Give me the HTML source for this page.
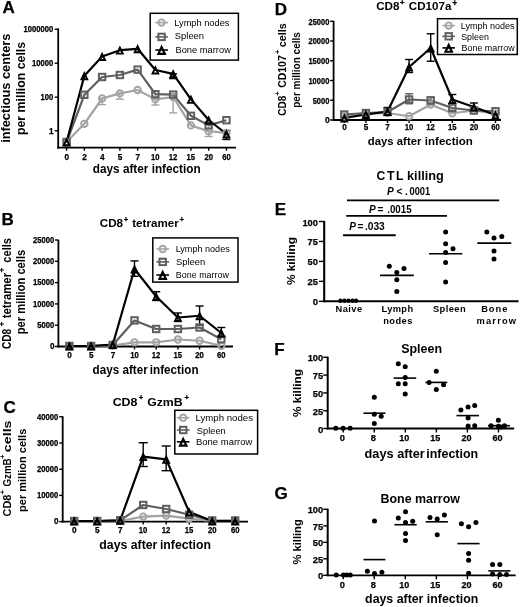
<!DOCTYPE html>
<html><head><meta charset="utf-8"><style>
html,body{margin:0;padding:0;background:#fff;}
svg{display:block;filter:grayscale(100%);}
text{font-family:"Liberation Sans", sans-serif;}
</style></head><body>
<svg width="520" height="607" viewBox="0 0 520 607" font-family='"Liberation Sans", sans-serif'>
<rect width="520" height="607" fill="#fff"/>
<text x="2.58" y="12.50" font-size="17" font-weight="bold" fill="#000" stroke="#000" stroke-width="0.25">A</text>
<line x1="58.20" y1="28.40" x2="58.20" y2="148.60" stroke="#000" stroke-width="1.8" stroke-linecap="butt"/>
<line x1="54.70" y1="29.30" x2="58.20" y2="29.30" stroke="#000" stroke-width="1.4" stroke-linecap="butt"/>
<text x="23.59" y="32.12" font-size="8.2" font-weight="bold" fill="#000" textLength="29.75" lengthAdjust="spacingAndGlyphs" stroke="#000" stroke-width="0.25">1000000</text>
<line x1="54.70" y1="63.20" x2="58.20" y2="63.20" stroke="#000" stroke-width="1.4" stroke-linecap="butt"/>
<text x="32.07" y="66.02" font-size="8.2" font-weight="bold" fill="#000" textLength="21.27" lengthAdjust="spacingAndGlyphs" stroke="#000" stroke-width="0.25">10000</text>
<line x1="54.70" y1="97.20" x2="58.20" y2="97.20" stroke="#000" stroke-width="1.4" stroke-linecap="butt"/>
<text x="40.55" y="100.02" font-size="8.2" font-weight="bold" fill="#000" textLength="12.78" lengthAdjust="spacingAndGlyphs" stroke="#000" stroke-width="0.25">100</text>
<line x1="54.70" y1="130.80" x2="58.20" y2="130.80" stroke="#000" stroke-width="1.4" stroke-linecap="butt"/>
<text x="48.93" y="133.62" font-size="8.2" font-weight="bold" fill="#000" stroke="#000" stroke-width="0.25">1</text>
<line x1="57.30" y1="147.70" x2="236.00" y2="147.70" stroke="#000" stroke-width="1.8" stroke-linecap="butt"/>
<line x1="66.60" y1="147.70" x2="66.60" y2="150.70" stroke="#000" stroke-width="1.4" stroke-linecap="butt"/>
<text x="64.46" y="159.70" font-size="8.2" font-weight="bold" fill="#000" stroke="#000" stroke-width="0.25">0</text>
<line x1="84.36" y1="147.70" x2="84.36" y2="150.70" stroke="#000" stroke-width="1.4" stroke-linecap="butt"/>
<text x="82.24" y="159.70" font-size="8.2" font-weight="bold" fill="#000" stroke="#000" stroke-width="0.25">2</text>
<line x1="102.12" y1="147.70" x2="102.12" y2="150.70" stroke="#000" stroke-width="1.4" stroke-linecap="butt"/>
<text x="99.95" y="159.70" font-size="8.2" font-weight="bold" fill="#000" stroke="#000" stroke-width="0.25">4</text>
<line x1="119.88" y1="147.70" x2="119.88" y2="150.70" stroke="#000" stroke-width="1.4" stroke-linecap="butt"/>
<text x="117.73" y="159.70" font-size="8.2" font-weight="bold" fill="#000" stroke="#000" stroke-width="0.25">5</text>
<line x1="137.64" y1="147.70" x2="137.64" y2="150.70" stroke="#000" stroke-width="1.4" stroke-linecap="butt"/>
<text x="135.50" y="159.70" font-size="8.2" font-weight="bold" fill="#000" stroke="#000" stroke-width="0.25">7</text>
<line x1="155.40" y1="147.70" x2="155.40" y2="150.70" stroke="#000" stroke-width="1.4" stroke-linecap="butt"/>
<text x="151.04" y="159.70" font-size="8.2" font-weight="bold" fill="#000" textLength="8.54" lengthAdjust="spacingAndGlyphs" stroke="#000" stroke-width="0.25">10</text>
<line x1="173.16" y1="147.70" x2="173.16" y2="150.70" stroke="#000" stroke-width="1.4" stroke-linecap="butt"/>
<text x="168.80" y="159.70" font-size="8.2" font-weight="bold" fill="#000" textLength="8.54" lengthAdjust="spacingAndGlyphs" stroke="#000" stroke-width="0.25">12</text>
<line x1="190.92" y1="147.70" x2="190.92" y2="150.70" stroke="#000" stroke-width="1.4" stroke-linecap="butt"/>
<text x="186.51" y="159.70" font-size="8.2" font-weight="bold" fill="#000" textLength="8.53" lengthAdjust="spacingAndGlyphs" stroke="#000" stroke-width="0.25">15</text>
<line x1="208.68" y1="147.70" x2="208.68" y2="150.70" stroke="#000" stroke-width="1.4" stroke-linecap="butt"/>
<text x="204.44" y="159.70" font-size="8.2" font-weight="bold" fill="#000" textLength="8.53" lengthAdjust="spacingAndGlyphs" stroke="#000" stroke-width="0.25">20</text>
<line x1="226.44" y1="147.70" x2="226.44" y2="150.70" stroke="#000" stroke-width="1.4" stroke-linecap="butt"/>
<text x="222.19" y="159.70" font-size="8.2" font-weight="bold" fill="#000" textLength="8.53" lengthAdjust="spacingAndGlyphs" stroke="#000" stroke-width="0.25">60</text>
<text x="92.80" y="173.30" font-size="12.3" font-weight="bold" fill="#000" textLength="107.87" lengthAdjust="spacingAndGlyphs">days after infection</text>
<g transform="translate(9.90 142.00) rotate(-90)">
<text x="-0.88" y="0.00" font-size="12.6" font-weight="bold" fill="#000" textLength="109.30" lengthAdjust="spacingAndGlyphs">infectious centers</text>
</g>
<g transform="translate(24.60 134.20) rotate(-90)">
<text x="-0.83" y="0.00" font-size="12.6" font-weight="bold" fill="#000" textLength="93.15" lengthAdjust="spacingAndGlyphs">per million cells</text>
</g>
<line x1="119.88" y1="93.40" x2="119.88" y2="99.20" stroke="#a3a3a3" stroke-width="1.4" stroke-linecap="butt"/>
<line x1="115.88" y1="93.40" x2="123.88" y2="93.40" stroke="#a3a3a3" stroke-width="1.4" stroke-linecap="butt"/>
<line x1="115.88" y1="99.20" x2="123.88" y2="99.20" stroke="#a3a3a3" stroke-width="1.4" stroke-linecap="butt"/>
<line x1="102.12" y1="98.50" x2="102.12" y2="104.60" stroke="#a3a3a3" stroke-width="1.4" stroke-linecap="butt"/>
<line x1="98.12" y1="98.50" x2="106.12" y2="98.50" stroke="#a3a3a3" stroke-width="1.4" stroke-linecap="butt"/>
<line x1="98.12" y1="104.60" x2="106.12" y2="104.60" stroke="#a3a3a3" stroke-width="1.4" stroke-linecap="butt"/>
<line x1="155.40" y1="99.40" x2="155.40" y2="105.00" stroke="#a3a3a3" stroke-width="1.4" stroke-linecap="butt"/>
<line x1="151.40" y1="99.40" x2="159.40" y2="99.40" stroke="#a3a3a3" stroke-width="1.4" stroke-linecap="butt"/>
<line x1="151.40" y1="105.00" x2="159.40" y2="105.00" stroke="#a3a3a3" stroke-width="1.4" stroke-linecap="butt"/>
<line x1="173.16" y1="97.00" x2="173.16" y2="112.90" stroke="#a3a3a3" stroke-width="1.4" stroke-linecap="butt"/>
<line x1="169.16" y1="97.00" x2="177.16" y2="97.00" stroke="#a3a3a3" stroke-width="1.4" stroke-linecap="butt"/>
<line x1="169.16" y1="112.90" x2="177.16" y2="112.90" stroke="#a3a3a3" stroke-width="1.4" stroke-linecap="butt"/>
<line x1="208.68" y1="131.20" x2="208.68" y2="136.50" stroke="#a3a3a3" stroke-width="1.4" stroke-linecap="butt"/>
<line x1="204.68" y1="131.20" x2="212.68" y2="131.20" stroke="#a3a3a3" stroke-width="1.4" stroke-linecap="butt"/>
<line x1="204.68" y1="136.50" x2="212.68" y2="136.50" stroke="#a3a3a3" stroke-width="1.4" stroke-linecap="butt"/>
<line x1="226.44" y1="130.50" x2="226.44" y2="139.50" stroke="#000" stroke-width="1.4" stroke-linecap="butt"/>
<line x1="222.44" y1="130.50" x2="230.44" y2="130.50" stroke="#000" stroke-width="1.4" stroke-linecap="butt"/>
<line x1="222.44" y1="139.50" x2="230.44" y2="139.50" stroke="#000" stroke-width="1.4" stroke-linecap="butt"/>
<line x1="173.16" y1="73.80" x2="173.16" y2="78.60" stroke="#000" stroke-width="1.4" stroke-linecap="butt"/>
<line x1="169.16" y1="73.80" x2="177.16" y2="73.80" stroke="#000" stroke-width="1.4" stroke-linecap="butt"/>
<line x1="169.16" y1="78.60" x2="177.16" y2="78.60" stroke="#000" stroke-width="1.4" stroke-linecap="butt"/>
<polyline points="66.60,142.00 84.36,123.80 102.12,98.50 119.88,93.40 137.64,90.00 155.40,99.40 173.16,97.00 190.92,125.40 208.68,131.20 226.44,133.00" fill="none" stroke="#a3a3a3" stroke-width="2.2" stroke-linejoin="round"/>
<polyline points="66.60,142.00 84.36,94.80 102.12,77.00 119.88,75.00 137.64,69.60 155.40,94.20 173.16,94.60 190.92,115.80 208.68,125.40 226.44,120.20" fill="none" stroke="#5f5f5f" stroke-width="2.2" stroke-linejoin="round"/>
<polyline points="66.60,142.00 84.36,75.80 102.12,56.50 119.88,50.20 137.64,48.80 155.40,70.00 173.16,73.80 190.92,99.40 208.68,120.00 226.44,134.00" fill="none" stroke="#000" stroke-width="2.2" stroke-linejoin="round"/>
<circle cx="66.60" cy="142.00" r="3.2" fill="none" stroke="#a3a3a3" stroke-width="1.9"/>
<circle cx="84.36" cy="123.80" r="3.2" fill="none" stroke="#a3a3a3" stroke-width="1.9"/>
<circle cx="102.12" cy="98.50" r="3.2" fill="none" stroke="#a3a3a3" stroke-width="1.9"/>
<circle cx="119.88" cy="93.40" r="3.2" fill="none" stroke="#a3a3a3" stroke-width="1.9"/>
<circle cx="137.64" cy="90.00" r="3.2" fill="none" stroke="#a3a3a3" stroke-width="1.9"/>
<circle cx="155.40" cy="99.40" r="3.2" fill="none" stroke="#a3a3a3" stroke-width="1.9"/>
<circle cx="173.16" cy="97.00" r="3.2" fill="none" stroke="#a3a3a3" stroke-width="1.9"/>
<circle cx="190.92" cy="125.40" r="3.2" fill="none" stroke="#a3a3a3" stroke-width="1.9"/>
<circle cx="208.68" cy="131.20" r="3.2" fill="none" stroke="#a3a3a3" stroke-width="1.9"/>
<circle cx="226.44" cy="133.00" r="3.2" fill="none" stroke="#a3a3a3" stroke-width="1.9"/>
<rect x="63.40" y="138.80" width="6.40" height="6.40" fill="none" stroke="#5f5f5f" stroke-width="2.0"/>
<rect x="81.16" y="91.60" width="6.40" height="6.40" fill="none" stroke="#5f5f5f" stroke-width="2.0"/>
<rect x="98.92" y="73.80" width="6.40" height="6.40" fill="none" stroke="#5f5f5f" stroke-width="2.0"/>
<rect x="116.68" y="71.80" width="6.40" height="6.40" fill="none" stroke="#5f5f5f" stroke-width="2.0"/>
<rect x="134.44" y="66.40" width="6.40" height="6.40" fill="none" stroke="#5f5f5f" stroke-width="2.0"/>
<rect x="152.20" y="91.00" width="6.40" height="6.40" fill="none" stroke="#5f5f5f" stroke-width="2.0"/>
<rect x="169.96" y="91.40" width="6.40" height="6.40" fill="none" stroke="#5f5f5f" stroke-width="2.0"/>
<rect x="187.72" y="112.60" width="6.40" height="6.40" fill="none" stroke="#5f5f5f" stroke-width="2.0"/>
<rect x="205.48" y="122.20" width="6.40" height="6.40" fill="none" stroke="#5f5f5f" stroke-width="2.0"/>
<rect x="223.24" y="117.00" width="6.40" height="6.40" fill="none" stroke="#5f5f5f" stroke-width="2.0"/>
<path d="M66.60,137.20 L71.00,146.40 L62.20,146.40 Z M66.60,142.00 L68.05,144.50 L65.15,144.50 Z" fill="#000" fill-rule="evenodd"/>
<path d="M84.36,71.00 L88.76,80.20 L79.96,80.20 Z M84.36,75.80 L85.81,78.30 L82.91,78.30 Z" fill="#000" fill-rule="evenodd"/>
<path d="M102.12,51.70 L106.52,60.90 L97.72,60.90 Z M102.12,56.50 L103.57,59.00 L100.67,59.00 Z" fill="#000" fill-rule="evenodd"/>
<path d="M119.88,45.40 L124.28,54.60 L115.48,54.60 Z M119.88,50.20 L121.33,52.70 L118.43,52.70 Z" fill="#000" fill-rule="evenodd"/>
<path d="M137.64,44.00 L142.04,53.20 L133.24,53.20 Z M137.64,48.80 L139.09,51.30 L136.19,51.30 Z" fill="#000" fill-rule="evenodd"/>
<path d="M155.40,65.20 L159.80,74.40 L151.00,74.40 Z M155.40,70.00 L156.85,72.50 L153.95,72.50 Z" fill="#000" fill-rule="evenodd"/>
<path d="M173.16,69.00 L177.56,78.20 L168.76,78.20 Z M173.16,73.80 L174.61,76.30 L171.71,76.30 Z" fill="#000" fill-rule="evenodd"/>
<path d="M190.92,94.60 L195.32,103.80 L186.52,103.80 Z M190.92,99.40 L192.37,101.90 L189.47,101.90 Z" fill="#000" fill-rule="evenodd"/>
<path d="M208.68,115.20 L213.08,124.40 L204.28,124.40 Z M208.68,120.00 L210.13,122.50 L207.23,122.50 Z" fill="#000" fill-rule="evenodd"/>
<path d="M226.44,129.20 L230.84,138.40 L222.04,138.40 Z M226.44,134.00 L227.89,136.50 L224.99,136.50 Z" fill="#000" fill-rule="evenodd"/>
<rect x="150.2" y="13.3" width="88.20000000000002" height="46.8" fill="#fff" stroke="#000" stroke-width="1.5"/>
<line x1="155.30" y1="22.60" x2="167.90" y2="22.60" stroke="#a3a3a3" stroke-width="1.6" stroke-linecap="butt"/>
<circle cx="161.60" cy="22.60" r="3.2" fill="none" stroke="#a3a3a3" stroke-width="1.9"/>
<text x="174.23" y="25.90" font-size="9.4" font-weight="normal" fill="#000" textLength="55.21" lengthAdjust="spacingAndGlyphs">Lymph nodes</text>
<line x1="155.30" y1="36.90" x2="167.90" y2="36.90" stroke="#5f5f5f" stroke-width="1.6" stroke-linecap="butt"/>
<rect x="158.40" y="33.70" width="6.40" height="6.40" fill="none" stroke="#5f5f5f" stroke-width="2.0"/>
<text x="174.87" y="39.40" font-size="9.4" font-weight="normal" fill="#000">Spleen</text>
<line x1="155.30" y1="50.00" x2="167.90" y2="50.00" stroke="#000" stroke-width="1.6" stroke-linecap="butt"/>
<path d="M161.60,44.62 L166.53,54.93 L156.67,54.93 Z M161.60,50.00 L163.22,52.80 L159.98,52.80 Z" fill="#000" fill-rule="evenodd"/>
<text x="175.43" y="53.00" font-size="9.4" font-weight="normal" fill="#000" textLength="55.45" lengthAdjust="spacingAndGlyphs">Bone marrow</text>
<text x="1.46" y="225.40" font-size="17" font-weight="bold" fill="#000" stroke="#000" stroke-width="0.25">B</text>
<text x="99.72" y="226.90" font-size="11.8" font-weight="bold" fill="#000" textLength="23.35" lengthAdjust="spacingAndGlyphs">CD8</text>
<text x="123.78" y="221.72" font-size="7.6" font-weight="bold" fill="#000" stroke="#000" stroke-width="0.3">+</text>
<text x="132.26" y="226.90" font-size="11.8" font-weight="bold" fill="#000" textLength="46.42" lengthAdjust="spacingAndGlyphs">tetramer</text>
<text x="179.62" y="221.59" font-size="7.8" font-weight="bold" fill="#000" stroke="#000" stroke-width="0.3">+</text>
<line x1="58.40" y1="239.80" x2="58.40" y2="347.40" stroke="#000" stroke-width="1.8" stroke-linecap="butt"/>
<line x1="54.90" y1="240.00" x2="58.40" y2="240.00" stroke="#000" stroke-width="1.4" stroke-linecap="butt"/>
<text x="33.09" y="242.82" font-size="8.2" font-weight="bold" fill="#000" textLength="21.25" lengthAdjust="spacingAndGlyphs" stroke="#000" stroke-width="0.25">25000</text>
<line x1="54.90" y1="261.30" x2="58.40" y2="261.30" stroke="#000" stroke-width="1.4" stroke-linecap="butt"/>
<text x="33.09" y="264.12" font-size="8.2" font-weight="bold" fill="#000" textLength="21.25" lengthAdjust="spacingAndGlyphs" stroke="#000" stroke-width="0.25">20000</text>
<line x1="54.90" y1="282.60" x2="58.40" y2="282.60" stroke="#000" stroke-width="1.4" stroke-linecap="butt"/>
<text x="33.07" y="285.42" font-size="8.2" font-weight="bold" fill="#000" textLength="21.27" lengthAdjust="spacingAndGlyphs" stroke="#000" stroke-width="0.25">15000</text>
<line x1="54.90" y1="303.90" x2="58.40" y2="303.90" stroke="#000" stroke-width="1.4" stroke-linecap="butt"/>
<text x="33.07" y="306.72" font-size="8.2" font-weight="bold" fill="#000" textLength="21.27" lengthAdjust="spacingAndGlyphs" stroke="#000" stroke-width="0.25">10000</text>
<line x1="54.90" y1="325.20" x2="58.40" y2="325.20" stroke="#000" stroke-width="1.4" stroke-linecap="butt"/>
<text x="37.33" y="328.02" font-size="8.2" font-weight="bold" fill="#000" textLength="17.01" lengthAdjust="spacingAndGlyphs" stroke="#000" stroke-width="0.25">5000</text>
<line x1="54.90" y1="346.50" x2="58.40" y2="346.50" stroke="#000" stroke-width="1.4" stroke-linecap="butt"/>
<text x="50.05" y="349.32" font-size="8.2" font-weight="bold" fill="#000" stroke="#000" stroke-width="0.25">0</text>
<line x1="57.50" y1="346.50" x2="233.00" y2="346.50" stroke="#000" stroke-width="1.8" stroke-linecap="butt"/>
<line x1="69.40" y1="346.50" x2="69.40" y2="349.50" stroke="#000" stroke-width="1.4" stroke-linecap="butt"/>
<text x="67.26" y="358.40" font-size="8.2" font-weight="bold" fill="#000" stroke="#000" stroke-width="0.25">0</text>
<line x1="91.10" y1="346.50" x2="91.10" y2="349.50" stroke="#000" stroke-width="1.4" stroke-linecap="butt"/>
<text x="88.95" y="358.40" font-size="8.2" font-weight="bold" fill="#000" stroke="#000" stroke-width="0.25">5</text>
<line x1="112.80" y1="346.50" x2="112.80" y2="349.50" stroke="#000" stroke-width="1.4" stroke-linecap="butt"/>
<text x="110.66" y="358.40" font-size="8.2" font-weight="bold" fill="#000" stroke="#000" stroke-width="0.25">7</text>
<line x1="134.50" y1="346.50" x2="134.50" y2="349.50" stroke="#000" stroke-width="1.4" stroke-linecap="butt"/>
<text x="130.14" y="358.40" font-size="8.2" font-weight="bold" fill="#000" textLength="8.54" lengthAdjust="spacingAndGlyphs" stroke="#000" stroke-width="0.25">10</text>
<line x1="156.20" y1="346.50" x2="156.20" y2="349.50" stroke="#000" stroke-width="1.4" stroke-linecap="butt"/>
<text x="151.84" y="358.40" font-size="8.2" font-weight="bold" fill="#000" textLength="8.54" lengthAdjust="spacingAndGlyphs" stroke="#000" stroke-width="0.25">12</text>
<line x1="177.90" y1="346.50" x2="177.90" y2="349.50" stroke="#000" stroke-width="1.4" stroke-linecap="butt"/>
<text x="173.49" y="358.40" font-size="8.2" font-weight="bold" fill="#000" textLength="8.53" lengthAdjust="spacingAndGlyphs" stroke="#000" stroke-width="0.25">15</text>
<line x1="199.60" y1="346.50" x2="199.60" y2="349.50" stroke="#000" stroke-width="1.4" stroke-linecap="butt"/>
<text x="195.36" y="358.40" font-size="8.2" font-weight="bold" fill="#000" textLength="8.53" lengthAdjust="spacingAndGlyphs" stroke="#000" stroke-width="0.25">20</text>
<line x1="221.30" y1="346.50" x2="221.30" y2="349.50" stroke="#000" stroke-width="1.4" stroke-linecap="butt"/>
<text x="217.05" y="358.40" font-size="8.2" font-weight="bold" fill="#000" textLength="8.53" lengthAdjust="spacingAndGlyphs" stroke="#000" stroke-width="0.25">60</text>
<text x="92.60" y="374.20" font-size="12.3" font-weight="bold" fill="#000" textLength="55.09" lengthAdjust="spacingAndGlyphs">days after</text>
<text x="149.74" y="374.20" font-size="12.3" font-weight="bold" fill="#000" textLength="48.82" lengthAdjust="spacingAndGlyphs">infection</text>
<g transform="translate(11.00 348.60) rotate(-90)">
<text x="-0.49" y="0.00" font-size="11.9" font-weight="bold" fill="#000" textLength="20.35" lengthAdjust="spacingAndGlyphs">CD8</text>
<text x="22.04" y="-6.00" font-size="8.5" font-weight="bold" fill="#000">+</text>
<text x="30.25" y="0.00" font-size="11.9" font-weight="bold" fill="#000" textLength="45.43" lengthAdjust="spacingAndGlyphs">tetramer</text>
<text x="76.14" y="-6.00" font-size="8.5" font-weight="bold" fill="#000">+</text>
<text x="85.94" y="0.00" font-size="11.9" font-weight="bold" fill="#000" textLength="24.65" lengthAdjust="spacingAndGlyphs">cells</text>
</g>
<g transform="translate(25.20 333.60) rotate(-90)">
<text x="-0.78" y="0.00" font-size="11.9" font-weight="bold" fill="#000" textLength="84.67" lengthAdjust="spacingAndGlyphs">per million cells</text>
</g>
<line x1="134.50" y1="260.90" x2="134.50" y2="276.30" stroke="#000" stroke-width="1.4" stroke-linecap="butt"/>
<line x1="130.50" y1="260.90" x2="138.50" y2="260.90" stroke="#000" stroke-width="1.4" stroke-linecap="butt"/>
<line x1="130.50" y1="276.30" x2="138.50" y2="276.30" stroke="#000" stroke-width="1.4" stroke-linecap="butt"/>
<line x1="156.20" y1="291.70" x2="156.20" y2="300.50" stroke="#000" stroke-width="1.4" stroke-linecap="butt"/>
<line x1="152.20" y1="291.70" x2="160.20" y2="291.70" stroke="#000" stroke-width="1.4" stroke-linecap="butt"/>
<line x1="152.20" y1="300.50" x2="160.20" y2="300.50" stroke="#000" stroke-width="1.4" stroke-linecap="butt"/>
<line x1="177.90" y1="313.00" x2="177.90" y2="321.50" stroke="#000" stroke-width="1.4" stroke-linecap="butt"/>
<line x1="173.90" y1="313.00" x2="181.90" y2="313.00" stroke="#000" stroke-width="1.4" stroke-linecap="butt"/>
<line x1="173.90" y1="321.50" x2="181.90" y2="321.50" stroke="#000" stroke-width="1.4" stroke-linecap="butt"/>
<line x1="199.60" y1="306.00" x2="199.60" y2="325.00" stroke="#000" stroke-width="1.4" stroke-linecap="butt"/>
<line x1="195.60" y1="306.00" x2="203.60" y2="306.00" stroke="#000" stroke-width="1.4" stroke-linecap="butt"/>
<line x1="195.60" y1="325.00" x2="203.60" y2="325.00" stroke="#000" stroke-width="1.4" stroke-linecap="butt"/>
<line x1="221.30" y1="327.50" x2="221.30" y2="337.00" stroke="#000" stroke-width="1.4" stroke-linecap="butt"/>
<line x1="217.30" y1="327.50" x2="225.30" y2="327.50" stroke="#000" stroke-width="1.4" stroke-linecap="butt"/>
<line x1="217.30" y1="337.00" x2="225.30" y2="337.00" stroke="#000" stroke-width="1.4" stroke-linecap="butt"/>
<polyline points="69.40,346.20 91.10,346.20 112.80,345.50 134.50,342.30 156.20,342.30 177.90,339.50 199.60,340.75 221.30,345.75" fill="none" stroke="#a3a3a3" stroke-width="2.2" stroke-linejoin="round"/>
<polyline points="69.40,346.00 91.10,346.00 112.80,345.00 134.50,320.40 156.20,329.00 177.90,329.00 199.60,327.50 221.30,339.25" fill="none" stroke="#5f5f5f" stroke-width="2.2" stroke-linejoin="round"/>
<polyline points="69.40,346.00 91.10,346.00 112.80,344.50 134.50,269.00 156.20,296.50 177.90,317.50 199.60,315.75 221.30,333.00" fill="none" stroke="#000" stroke-width="2.2" stroke-linejoin="round"/>
<circle cx="69.40" cy="346.20" r="3.2" fill="none" stroke="#a3a3a3" stroke-width="1.9"/>
<circle cx="91.10" cy="346.20" r="3.2" fill="none" stroke="#a3a3a3" stroke-width="1.9"/>
<circle cx="112.80" cy="345.50" r="3.2" fill="none" stroke="#a3a3a3" stroke-width="1.9"/>
<circle cx="134.50" cy="342.30" r="3.2" fill="none" stroke="#a3a3a3" stroke-width="1.9"/>
<circle cx="156.20" cy="342.30" r="3.2" fill="none" stroke="#a3a3a3" stroke-width="1.9"/>
<circle cx="177.90" cy="339.50" r="3.2" fill="none" stroke="#a3a3a3" stroke-width="1.9"/>
<circle cx="199.60" cy="340.75" r="3.2" fill="none" stroke="#a3a3a3" stroke-width="1.9"/>
<circle cx="221.30" cy="345.75" r="3.2" fill="none" stroke="#a3a3a3" stroke-width="1.9"/>
<rect x="66.20" y="342.80" width="6.40" height="6.40" fill="none" stroke="#5f5f5f" stroke-width="2.0"/>
<rect x="87.90" y="342.80" width="6.40" height="6.40" fill="none" stroke="#5f5f5f" stroke-width="2.0"/>
<rect x="109.60" y="341.80" width="6.40" height="6.40" fill="none" stroke="#5f5f5f" stroke-width="2.0"/>
<rect x="131.30" y="317.20" width="6.40" height="6.40" fill="none" stroke="#5f5f5f" stroke-width="2.0"/>
<rect x="153.00" y="325.80" width="6.40" height="6.40" fill="none" stroke="#5f5f5f" stroke-width="2.0"/>
<rect x="174.70" y="325.80" width="6.40" height="6.40" fill="none" stroke="#5f5f5f" stroke-width="2.0"/>
<rect x="196.40" y="324.30" width="6.40" height="6.40" fill="none" stroke="#5f5f5f" stroke-width="2.0"/>
<rect x="218.10" y="336.05" width="6.40" height="6.40" fill="none" stroke="#5f5f5f" stroke-width="2.0"/>
<path d="M69.40,341.20 L73.80,350.40 L65.00,350.40 Z M69.40,346.00 L70.85,348.50 L67.95,348.50 Z" fill="#000" fill-rule="evenodd"/>
<path d="M91.10,341.20 L95.50,350.40 L86.70,350.40 Z M91.10,346.00 L92.55,348.50 L89.65,348.50 Z" fill="#000" fill-rule="evenodd"/>
<path d="M112.80,339.70 L117.20,348.90 L108.40,348.90 Z M112.80,344.50 L114.25,347.00 L111.35,347.00 Z" fill="#000" fill-rule="evenodd"/>
<path d="M134.50,264.20 L138.90,273.40 L130.10,273.40 Z M134.50,269.00 L135.95,271.50 L133.05,271.50 Z" fill="#000" fill-rule="evenodd"/>
<path d="M156.20,291.70 L160.60,300.90 L151.80,300.90 Z M156.20,296.50 L157.65,299.00 L154.75,299.00 Z" fill="#000" fill-rule="evenodd"/>
<path d="M177.90,312.70 L182.30,321.90 L173.50,321.90 Z M177.90,317.50 L179.35,320.00 L176.45,320.00 Z" fill="#000" fill-rule="evenodd"/>
<path d="M199.60,310.95 L204.00,320.15 L195.20,320.15 Z M199.60,315.75 L201.05,318.25 L198.15,318.25 Z" fill="#000" fill-rule="evenodd"/>
<path d="M221.30,328.20 L225.70,337.40 L216.90,337.40 Z M221.30,333.00 L222.75,335.50 L219.85,335.50 Z" fill="#000" fill-rule="evenodd"/>
<rect x="152.8" y="237.9" width="85.19999999999999" height="44.20000000000002" fill="#fff" stroke="#000" stroke-width="1.5"/>
<line x1="156.40" y1="249.00" x2="169.00" y2="249.00" stroke="#a3a3a3" stroke-width="1.6" stroke-linecap="butt"/>
<circle cx="162.70" cy="249.00" r="3.2" fill="none" stroke="#a3a3a3" stroke-width="1.9"/>
<text x="175.63" y="251.70" font-size="9.4" font-weight="normal" fill="#000" textLength="54.11" lengthAdjust="spacingAndGlyphs">Lymph nodes</text>
<line x1="156.40" y1="261.90" x2="169.00" y2="261.90" stroke="#5f5f5f" stroke-width="1.6" stroke-linecap="butt"/>
<rect x="159.50" y="258.70" width="6.40" height="6.40" fill="none" stroke="#5f5f5f" stroke-width="2.0"/>
<text x="175.97" y="264.60" font-size="9.4" font-weight="normal" fill="#000">Spleen</text>
<line x1="156.40" y1="275.00" x2="169.00" y2="275.00" stroke="#000" stroke-width="1.6" stroke-linecap="butt"/>
<path d="M162.70,269.62 L167.63,279.93 L157.77,279.93 Z M162.70,275.00 L164.32,277.80 L161.08,277.80 Z" fill="#000" fill-rule="evenodd"/>
<text x="175.83" y="277.90" font-size="9.4" font-weight="normal" fill="#000" textLength="53.05" lengthAdjust="spacingAndGlyphs">Bone marrow</text>
<text x="3.60" y="413.40" font-size="17" font-weight="bold" fill="#000" stroke="#000" stroke-width="0.25">C</text>
<text x="112.65" y="405.70" font-size="11.0" font-weight="bold" fill="#000" textLength="24.89" lengthAdjust="spacingAndGlyphs">CD8</text>
<text x="138.78" y="400.32" font-size="7.6" font-weight="bold" fill="#000" stroke="#000" stroke-width="0.3">+</text>
<text x="147.15" y="405.70" font-size="11.0" font-weight="bold" fill="#000" textLength="35.45" lengthAdjust="spacingAndGlyphs">GzmB</text>
<text x="184.58" y="400.12" font-size="7.6" font-weight="bold" fill="#000" stroke="#000" stroke-width="0.3">+</text>
<line x1="62.70" y1="416.30" x2="62.70" y2="522.50" stroke="#000" stroke-width="1.8" stroke-linecap="butt"/>
<line x1="59.20" y1="416.80" x2="62.70" y2="416.80" stroke="#000" stroke-width="1.4" stroke-linecap="butt"/>
<text x="37.00" y="419.62" font-size="8.2" font-weight="bold" fill="#000" textLength="21.24" lengthAdjust="spacingAndGlyphs" stroke="#000" stroke-width="0.25">40000</text>
<line x1="59.20" y1="443.00" x2="62.70" y2="443.00" stroke="#000" stroke-width="1.4" stroke-linecap="butt"/>
<text x="36.99" y="445.82" font-size="8.2" font-weight="bold" fill="#000" textLength="21.24" lengthAdjust="spacingAndGlyphs" stroke="#000" stroke-width="0.25">30000</text>
<line x1="59.20" y1="469.20" x2="62.70" y2="469.20" stroke="#000" stroke-width="1.4" stroke-linecap="butt"/>
<text x="36.99" y="472.02" font-size="8.2" font-weight="bold" fill="#000" textLength="21.25" lengthAdjust="spacingAndGlyphs" stroke="#000" stroke-width="0.25">20000</text>
<line x1="59.20" y1="495.40" x2="62.70" y2="495.40" stroke="#000" stroke-width="1.4" stroke-linecap="butt"/>
<text x="36.97" y="498.22" font-size="8.2" font-weight="bold" fill="#000" textLength="21.27" lengthAdjust="spacingAndGlyphs" stroke="#000" stroke-width="0.25">10000</text>
<line x1="59.20" y1="521.60" x2="62.70" y2="521.60" stroke="#000" stroke-width="1.4" stroke-linecap="butt"/>
<text x="53.95" y="524.42" font-size="8.2" font-weight="bold" fill="#000" stroke="#000" stroke-width="0.25">0</text>
<line x1="61.80" y1="521.60" x2="248.00" y2="521.60" stroke="#000" stroke-width="1.8" stroke-linecap="butt"/>
<line x1="74.20" y1="521.60" x2="74.20" y2="524.60" stroke="#000" stroke-width="1.4" stroke-linecap="butt"/>
<text x="72.06" y="533.20" font-size="8.2" font-weight="bold" fill="#000" stroke="#000" stroke-width="0.25">0</text>
<line x1="97.20" y1="521.60" x2="97.20" y2="524.60" stroke="#000" stroke-width="1.4" stroke-linecap="butt"/>
<text x="95.05" y="533.20" font-size="8.2" font-weight="bold" fill="#000" stroke="#000" stroke-width="0.25">5</text>
<line x1="120.20" y1="521.60" x2="120.20" y2="524.60" stroke="#000" stroke-width="1.4" stroke-linecap="butt"/>
<text x="118.06" y="533.20" font-size="8.2" font-weight="bold" fill="#000" stroke="#000" stroke-width="0.25">7</text>
<line x1="143.20" y1="521.60" x2="143.20" y2="524.60" stroke="#000" stroke-width="1.4" stroke-linecap="butt"/>
<text x="138.84" y="533.20" font-size="8.2" font-weight="bold" fill="#000" textLength="8.54" lengthAdjust="spacingAndGlyphs" stroke="#000" stroke-width="0.25">10</text>
<line x1="166.20" y1="521.60" x2="166.20" y2="524.60" stroke="#000" stroke-width="1.4" stroke-linecap="butt"/>
<text x="161.84" y="533.20" font-size="8.2" font-weight="bold" fill="#000" textLength="8.54" lengthAdjust="spacingAndGlyphs" stroke="#000" stroke-width="0.25">12</text>
<line x1="189.20" y1="521.60" x2="189.20" y2="524.60" stroke="#000" stroke-width="1.4" stroke-linecap="butt"/>
<text x="184.79" y="533.20" font-size="8.2" font-weight="bold" fill="#000" textLength="8.53" lengthAdjust="spacingAndGlyphs" stroke="#000" stroke-width="0.25">15</text>
<line x1="212.20" y1="521.60" x2="212.20" y2="524.60" stroke="#000" stroke-width="1.4" stroke-linecap="butt"/>
<text x="207.96" y="533.20" font-size="8.2" font-weight="bold" fill="#000" textLength="8.53" lengthAdjust="spacingAndGlyphs" stroke="#000" stroke-width="0.25">20</text>
<line x1="235.20" y1="521.60" x2="235.20" y2="524.60" stroke="#000" stroke-width="1.4" stroke-linecap="butt"/>
<text x="230.95" y="533.20" font-size="8.2" font-weight="bold" fill="#000" textLength="8.53" lengthAdjust="spacingAndGlyphs" stroke="#000" stroke-width="0.25">60</text>
<text x="99.31" y="549.00" font-size="12.0" font-weight="bold" fill="#000" textLength="58.07" lengthAdjust="spacingAndGlyphs">days after</text>
<text x="159.96" y="549.00" font-size="12.0" font-weight="bold" fill="#000" textLength="50.98" lengthAdjust="spacingAndGlyphs">infection</text>
<g transform="translate(11.20 516.00) rotate(-90)">
<text x="-0.48" y="0.00" font-size="11.8" font-weight="bold" fill="#000" textLength="21.75" lengthAdjust="spacingAndGlyphs">CD8</text>
<text x="21.46" y="-5.80" font-size="8" font-weight="bold" fill="#000">+</text>
<text x="29.42" y="0.00" font-size="11.8" font-weight="bold" fill="#000" textLength="28.22" lengthAdjust="spacingAndGlyphs">GzmB</text>
<text x="57.06" y="-5.80" font-size="8" font-weight="bold" fill="#000">+</text>
<text x="63.84" y="0.00" font-size="11.8" font-weight="bold" fill="#000" textLength="31.74" lengthAdjust="spacingAndGlyphs">cells</text>
</g>
<g transform="translate(26.40 511.20) rotate(-90)">
<text x="-0.78" y="0.00" font-size="11.8" font-weight="bold" fill="#000" textLength="83.26" lengthAdjust="spacingAndGlyphs">per million cells</text>
</g>
<line x1="143.20" y1="442.70" x2="143.20" y2="466.50" stroke="#000" stroke-width="1.4" stroke-linecap="butt"/>
<line x1="138.60" y1="442.70" x2="147.80" y2="442.70" stroke="#000" stroke-width="1.4" stroke-linecap="butt"/>
<line x1="138.60" y1="466.50" x2="147.80" y2="466.50" stroke="#000" stroke-width="1.4" stroke-linecap="butt"/>
<line x1="166.20" y1="446.00" x2="166.20" y2="470.70" stroke="#000" stroke-width="1.4" stroke-linecap="butt"/>
<line x1="161.60" y1="446.00" x2="170.80" y2="446.00" stroke="#000" stroke-width="1.4" stroke-linecap="butt"/>
<line x1="161.60" y1="470.70" x2="170.80" y2="470.70" stroke="#000" stroke-width="1.4" stroke-linecap="butt"/>
<polyline points="74.20,521.20 97.20,521.20 120.20,521.00 143.20,516.60 166.20,515.60 189.20,518.70 212.20,521.00 235.20,521.00" fill="none" stroke="#a3a3a3" stroke-width="2.2" stroke-linejoin="round"/>
<polyline points="74.20,521.00 97.20,521.00 120.20,520.30 143.20,505.00 166.20,509.00 189.20,514.80 212.20,520.50 235.20,520.50" fill="none" stroke="#5f5f5f" stroke-width="2.2" stroke-linejoin="round"/>
<polyline points="74.20,521.00 97.20,521.00 120.20,520.30 143.20,456.70 166.20,459.40 189.20,512.00 212.20,521.00 235.20,521.00" fill="none" stroke="#000" stroke-width="2.2" stroke-linejoin="round"/>
<circle cx="74.20" cy="521.20" r="3.2" fill="none" stroke="#a3a3a3" stroke-width="1.9"/>
<circle cx="97.20" cy="521.20" r="3.2" fill="none" stroke="#a3a3a3" stroke-width="1.9"/>
<circle cx="120.20" cy="521.00" r="3.2" fill="none" stroke="#a3a3a3" stroke-width="1.9"/>
<circle cx="143.20" cy="516.60" r="3.2" fill="none" stroke="#a3a3a3" stroke-width="1.9"/>
<circle cx="166.20" cy="515.60" r="3.2" fill="none" stroke="#a3a3a3" stroke-width="1.9"/>
<circle cx="189.20" cy="518.70" r="3.2" fill="none" stroke="#a3a3a3" stroke-width="1.9"/>
<circle cx="212.20" cy="521.00" r="3.2" fill="none" stroke="#a3a3a3" stroke-width="1.9"/>
<circle cx="235.20" cy="521.00" r="3.2" fill="none" stroke="#a3a3a3" stroke-width="1.9"/>
<rect x="71.00" y="517.80" width="6.40" height="6.40" fill="none" stroke="#5f5f5f" stroke-width="2.0"/>
<rect x="94.00" y="517.80" width="6.40" height="6.40" fill="none" stroke="#5f5f5f" stroke-width="2.0"/>
<rect x="117.00" y="517.10" width="6.40" height="6.40" fill="none" stroke="#5f5f5f" stroke-width="2.0"/>
<rect x="140.00" y="501.80" width="6.40" height="6.40" fill="none" stroke="#5f5f5f" stroke-width="2.0"/>
<rect x="163.00" y="505.80" width="6.40" height="6.40" fill="none" stroke="#5f5f5f" stroke-width="2.0"/>
<rect x="186.00" y="511.60" width="6.40" height="6.40" fill="none" stroke="#5f5f5f" stroke-width="2.0"/>
<rect x="209.00" y="517.30" width="6.40" height="6.40" fill="none" stroke="#5f5f5f" stroke-width="2.0"/>
<rect x="232.00" y="517.30" width="6.40" height="6.40" fill="none" stroke="#5f5f5f" stroke-width="2.0"/>
<path d="M74.20,516.20 L78.60,525.40 L69.80,525.40 Z M74.20,521.00 L75.65,523.50 L72.75,523.50 Z" fill="#000" fill-rule="evenodd"/>
<path d="M97.20,516.20 L101.60,525.40 L92.80,525.40 Z M97.20,521.00 L98.65,523.50 L95.75,523.50 Z" fill="#000" fill-rule="evenodd"/>
<path d="M120.20,515.50 L124.60,524.70 L115.80,524.70 Z M120.20,520.30 L121.65,522.80 L118.75,522.80 Z" fill="#000" fill-rule="evenodd"/>
<path d="M143.20,451.90 L147.60,461.10 L138.80,461.10 Z M143.20,456.70 L144.65,459.20 L141.75,459.20 Z" fill="#000" fill-rule="evenodd"/>
<path d="M166.20,454.60 L170.60,463.80 L161.80,463.80 Z M166.20,459.40 L167.65,461.90 L164.75,461.90 Z" fill="#000" fill-rule="evenodd"/>
<path d="M189.20,507.20 L193.60,516.40 L184.80,516.40 Z M189.20,512.00 L190.65,514.50 L187.75,514.50 Z" fill="#000" fill-rule="evenodd"/>
<path d="M212.20,516.20 L216.60,525.40 L207.80,525.40 Z M212.20,521.00 L213.65,523.50 L210.75,523.50 Z" fill="#000" fill-rule="evenodd"/>
<path d="M235.20,516.20 L239.60,525.40 L230.80,525.40 Z M235.20,521.00 L236.65,523.50 L233.75,523.50 Z" fill="#000" fill-rule="evenodd"/>
<rect x="174.8" y="410.3" width="82.80000000000001" height="43.69999999999999" fill="#fff" stroke="#000" stroke-width="1.5"/>
<line x1="176.90" y1="417.70" x2="189.50" y2="417.70" stroke="#a3a3a3" stroke-width="1.6" stroke-linecap="butt"/>
<circle cx="183.20" cy="417.70" r="3.2" fill="none" stroke="#a3a3a3" stroke-width="1.9"/>
<text x="195.53" y="421.00" font-size="9.4" font-weight="normal" fill="#000" textLength="57.51" lengthAdjust="spacingAndGlyphs">Lymph nodes</text>
<line x1="176.90" y1="430.00" x2="189.50" y2="430.00" stroke="#5f5f5f" stroke-width="1.6" stroke-linecap="butt"/>
<rect x="180.00" y="426.80" width="6.40" height="6.40" fill="none" stroke="#5f5f5f" stroke-width="2.0"/>
<text x="196.87" y="433.50" font-size="9.4" font-weight="normal" fill="#000" textLength="28.84" lengthAdjust="spacingAndGlyphs">Spleen</text>
<line x1="176.90" y1="441.80" x2="189.50" y2="441.80" stroke="#000" stroke-width="1.6" stroke-linecap="butt"/>
<path d="M183.20,436.42 L188.13,446.73 L178.27,446.73 Z M183.20,441.80 L184.82,444.60 L181.58,444.60 Z" fill="#000" fill-rule="evenodd"/>
<text x="196.03" y="445.00" font-size="9.4" font-weight="normal" fill="#000" textLength="56.35" lengthAdjust="spacingAndGlyphs">Bone marrow</text>
<text x="274.66" y="14.50" font-size="17" font-weight="bold" fill="#000" stroke="#000" stroke-width="0.25">D</text>
<text x="376.16" y="9.50" font-size="10.8" font-weight="bold" fill="#000" textLength="23.38" lengthAdjust="spacingAndGlyphs">CD8</text>
<text x="400.02" y="5.29" font-size="7.8" font-weight="bold" fill="#000" stroke="#000" stroke-width="0.3">+</text>
<text x="408.86" y="9.50" font-size="10.8" font-weight="bold" fill="#000" textLength="42.47" lengthAdjust="spacingAndGlyphs">CD107a</text>
<text x="452.14" y="5.69" font-size="8.4" font-weight="bold" fill="#000" stroke="#000" stroke-width="0.3">+</text>
<line x1="333.60" y1="20.80" x2="333.60" y2="120.90" stroke="#000" stroke-width="1.8" stroke-linecap="butt"/>
<line x1="330.10" y1="21.25" x2="333.60" y2="21.25" stroke="#000" stroke-width="1.4" stroke-linecap="butt"/>
<text x="308.47" y="24.67" font-size="8.5" font-weight="bold" fill="#000" textLength="20.88" lengthAdjust="spacingAndGlyphs" stroke="#000" stroke-width="0.25">25000</text>
<line x1="330.10" y1="41.00" x2="333.60" y2="41.00" stroke="#000" stroke-width="1.4" stroke-linecap="butt"/>
<text x="308.47" y="44.42" font-size="8.5" font-weight="bold" fill="#000" textLength="20.88" lengthAdjust="spacingAndGlyphs" stroke="#000" stroke-width="0.25">20000</text>
<line x1="330.10" y1="60.75" x2="333.60" y2="60.75" stroke="#000" stroke-width="1.4" stroke-linecap="butt"/>
<text x="308.44" y="64.17" font-size="8.5" font-weight="bold" fill="#000" textLength="20.91" lengthAdjust="spacingAndGlyphs" stroke="#000" stroke-width="0.25">15000</text>
<line x1="330.10" y1="80.50" x2="333.60" y2="80.50" stroke="#000" stroke-width="1.4" stroke-linecap="butt"/>
<text x="308.44" y="83.92" font-size="8.5" font-weight="bold" fill="#000" textLength="20.91" lengthAdjust="spacingAndGlyphs" stroke="#000" stroke-width="0.25">10000</text>
<line x1="330.10" y1="100.25" x2="333.60" y2="100.25" stroke="#000" stroke-width="1.4" stroke-linecap="butt"/>
<text x="312.64" y="103.67" font-size="8.5" font-weight="bold" fill="#000" textLength="16.71" lengthAdjust="spacingAndGlyphs" stroke="#000" stroke-width="0.25">5000</text>
<line x1="330.10" y1="120.00" x2="333.60" y2="120.00" stroke="#000" stroke-width="1.4" stroke-linecap="butt"/>
<text x="325.11" y="123.42" font-size="8.5" font-weight="bold" fill="#000" stroke="#000" stroke-width="0.25">0</text>
<line x1="332.70" y1="120.00" x2="501.00" y2="120.00" stroke="#000" stroke-width="1.8" stroke-linecap="butt"/>
<line x1="344.30" y1="120.00" x2="344.30" y2="123.00" stroke="#000" stroke-width="1.4" stroke-linecap="butt"/>
<text x="342.16" y="130.40" font-size="8.2" font-weight="bold" fill="#000" stroke="#000" stroke-width="0.25">0</text>
<line x1="365.90" y1="120.00" x2="365.90" y2="123.00" stroke="#000" stroke-width="1.4" stroke-linecap="butt"/>
<text x="363.75" y="130.40" font-size="8.2" font-weight="bold" fill="#000" stroke="#000" stroke-width="0.25">5</text>
<line x1="387.50" y1="120.00" x2="387.50" y2="123.00" stroke="#000" stroke-width="1.4" stroke-linecap="butt"/>
<text x="385.36" y="130.40" font-size="8.2" font-weight="bold" fill="#000" stroke="#000" stroke-width="0.25">7</text>
<line x1="409.10" y1="120.00" x2="409.10" y2="123.00" stroke="#000" stroke-width="1.4" stroke-linecap="butt"/>
<text x="404.74" y="130.40" font-size="8.2" font-weight="bold" fill="#000" textLength="8.54" lengthAdjust="spacingAndGlyphs" stroke="#000" stroke-width="0.25">10</text>
<line x1="430.70" y1="120.00" x2="430.70" y2="123.00" stroke="#000" stroke-width="1.4" stroke-linecap="butt"/>
<text x="426.34" y="130.40" font-size="8.2" font-weight="bold" fill="#000" textLength="8.54" lengthAdjust="spacingAndGlyphs" stroke="#000" stroke-width="0.25">12</text>
<line x1="452.30" y1="120.00" x2="452.30" y2="123.00" stroke="#000" stroke-width="1.4" stroke-linecap="butt"/>
<text x="447.89" y="130.40" font-size="8.2" font-weight="bold" fill="#000" textLength="8.53" lengthAdjust="spacingAndGlyphs" stroke="#000" stroke-width="0.25">15</text>
<line x1="473.90" y1="120.00" x2="473.90" y2="123.00" stroke="#000" stroke-width="1.4" stroke-linecap="butt"/>
<text x="469.66" y="130.40" font-size="8.2" font-weight="bold" fill="#000" textLength="8.53" lengthAdjust="spacingAndGlyphs" stroke="#000" stroke-width="0.25">20</text>
<line x1="495.50" y1="120.00" x2="495.50" y2="123.00" stroke="#000" stroke-width="1.4" stroke-linecap="butt"/>
<text x="491.25" y="130.40" font-size="8.2" font-weight="bold" fill="#000" textLength="8.53" lengthAdjust="spacingAndGlyphs" stroke="#000" stroke-width="0.25">60</text>
<text x="367.86" y="144.90" font-size="10.8" font-weight="bold" fill="#000" textLength="53.51" lengthAdjust="spacingAndGlyphs">days after</text>
<text x="424.85" y="144.90" font-size="10.8" font-weight="bold" fill="#000" textLength="48.02" lengthAdjust="spacingAndGlyphs">infection</text>
<g transform="translate(285.60 115.30) rotate(-90)">
<text x="-0.46" y="0.00" font-size="11.2" font-weight="bold" fill="#000" textLength="20.10" lengthAdjust="spacingAndGlyphs">CD8</text>
<text x="19.66" y="-5.60" font-size="8" font-weight="bold" fill="#000">+</text>
<text x="27.44" y="0.00" font-size="11.2" font-weight="bold" fill="#000" textLength="32.65" lengthAdjust="spacingAndGlyphs">CD107</text>
<text x="60.96" y="-5.60" font-size="8" font-weight="bold" fill="#000">+</text>
<text x="68.16" y="0.00" font-size="11.2" font-weight="bold" fill="#000" textLength="24.00" lengthAdjust="spacingAndGlyphs">cells</text>
</g>
<g transform="translate(300.30 107.00) rotate(-90)">
<text x="-0.74" y="0.00" font-size="11.2" font-weight="bold" fill="#000" textLength="75.60" lengthAdjust="spacingAndGlyphs">per million cells</text>
</g>
<line x1="387.50" y1="107.50" x2="387.50" y2="114.50" stroke="#000" stroke-width="1.4" stroke-linecap="butt"/>
<line x1="383.50" y1="107.50" x2="391.50" y2="107.50" stroke="#000" stroke-width="1.4" stroke-linecap="butt"/>
<line x1="383.50" y1="114.50" x2="391.50" y2="114.50" stroke="#000" stroke-width="1.4" stroke-linecap="butt"/>
<line x1="409.10" y1="59.50" x2="409.10" y2="72.50" stroke="#000" stroke-width="1.4" stroke-linecap="butt"/>
<line x1="405.10" y1="59.50" x2="413.10" y2="59.50" stroke="#000" stroke-width="1.4" stroke-linecap="butt"/>
<line x1="405.10" y1="72.50" x2="413.10" y2="72.50" stroke="#000" stroke-width="1.4" stroke-linecap="butt"/>
<line x1="430.70" y1="33.75" x2="430.70" y2="61.25" stroke="#000" stroke-width="1.4" stroke-linecap="butt"/>
<line x1="426.70" y1="33.75" x2="434.70" y2="33.75" stroke="#000" stroke-width="1.4" stroke-linecap="butt"/>
<line x1="426.70" y1="61.25" x2="434.70" y2="61.25" stroke="#000" stroke-width="1.4" stroke-linecap="butt"/>
<line x1="452.30" y1="94.50" x2="452.30" y2="104.00" stroke="#000" stroke-width="1.4" stroke-linecap="butt"/>
<line x1="448.30" y1="94.50" x2="456.30" y2="94.50" stroke="#000" stroke-width="1.4" stroke-linecap="butt"/>
<line x1="448.30" y1="104.00" x2="456.30" y2="104.00" stroke="#000" stroke-width="1.4" stroke-linecap="butt"/>
<line x1="473.90" y1="103.00" x2="473.90" y2="111.00" stroke="#000" stroke-width="1.4" stroke-linecap="butt"/>
<line x1="469.90" y1="103.00" x2="477.90" y2="103.00" stroke="#000" stroke-width="1.4" stroke-linecap="butt"/>
<line x1="469.90" y1="111.00" x2="477.90" y2="111.00" stroke="#000" stroke-width="1.4" stroke-linecap="butt"/>
<line x1="409.10" y1="93.75" x2="409.10" y2="103.75" stroke="#5f5f5f" stroke-width="1.4" stroke-linecap="butt"/>
<line x1="405.10" y1="93.75" x2="413.10" y2="93.75" stroke="#5f5f5f" stroke-width="1.4" stroke-linecap="butt"/>
<line x1="405.10" y1="103.75" x2="413.10" y2="103.75" stroke="#5f5f5f" stroke-width="1.4" stroke-linecap="butt"/>
<line x1="430.70" y1="97.00" x2="430.70" y2="105.00" stroke="#5f5f5f" stroke-width="1.4" stroke-linecap="butt"/>
<line x1="426.70" y1="97.00" x2="434.70" y2="97.00" stroke="#5f5f5f" stroke-width="1.4" stroke-linecap="butt"/>
<line x1="426.70" y1="105.00" x2="434.70" y2="105.00" stroke="#5f5f5f" stroke-width="1.4" stroke-linecap="butt"/>
<polyline points="344.30,116.50 365.90,114.00 387.50,113.00 409.10,116.25 430.70,104.50 452.30,113.25 473.90,110.50 495.50,113.75" fill="none" stroke="#a3a3a3" stroke-width="2.2" stroke-linejoin="round"/>
<polyline points="344.30,114.50 365.90,113.00 387.50,112.00 409.10,99.50 430.70,100.50 452.30,108.00 473.90,110.50 495.50,111.25" fill="none" stroke="#5f5f5f" stroke-width="2.2" stroke-linejoin="round"/>
<polyline points="344.30,118.00 365.90,114.50 387.50,111.50 409.10,67.00 430.70,48.00 452.30,99.50 473.90,107.00 495.50,115.00" fill="none" stroke="#000" stroke-width="2.2" stroke-linejoin="round"/>
<circle cx="344.30" cy="116.50" r="3.2" fill="none" stroke="#a3a3a3" stroke-width="1.9"/>
<circle cx="365.90" cy="114.00" r="3.2" fill="none" stroke="#a3a3a3" stroke-width="1.9"/>
<circle cx="387.50" cy="113.00" r="3.2" fill="none" stroke="#a3a3a3" stroke-width="1.9"/>
<circle cx="409.10" cy="116.25" r="3.2" fill="none" stroke="#a3a3a3" stroke-width="1.9"/>
<circle cx="430.70" cy="104.50" r="3.2" fill="none" stroke="#a3a3a3" stroke-width="1.9"/>
<circle cx="452.30" cy="113.25" r="3.2" fill="none" stroke="#a3a3a3" stroke-width="1.9"/>
<circle cx="473.90" cy="110.50" r="3.2" fill="none" stroke="#a3a3a3" stroke-width="1.9"/>
<circle cx="495.50" cy="113.75" r="3.2" fill="none" stroke="#a3a3a3" stroke-width="1.9"/>
<rect x="341.10" y="111.30" width="6.40" height="6.40" fill="none" stroke="#5f5f5f" stroke-width="2.0"/>
<rect x="362.70" y="109.80" width="6.40" height="6.40" fill="none" stroke="#5f5f5f" stroke-width="2.0"/>
<rect x="384.30" y="108.80" width="6.40" height="6.40" fill="none" stroke="#5f5f5f" stroke-width="2.0"/>
<rect x="405.90" y="96.30" width="6.40" height="6.40" fill="none" stroke="#5f5f5f" stroke-width="2.0"/>
<rect x="427.50" y="97.30" width="6.40" height="6.40" fill="none" stroke="#5f5f5f" stroke-width="2.0"/>
<rect x="449.10" y="104.80" width="6.40" height="6.40" fill="none" stroke="#5f5f5f" stroke-width="2.0"/>
<rect x="470.70" y="107.30" width="6.40" height="6.40" fill="none" stroke="#5f5f5f" stroke-width="2.0"/>
<rect x="492.30" y="108.05" width="6.40" height="6.40" fill="none" stroke="#5f5f5f" stroke-width="2.0"/>
<path d="M344.30,113.20 L348.70,122.40 L339.90,122.40 Z M344.30,118.00 L345.75,120.50 L342.85,120.50 Z" fill="#000" fill-rule="evenodd"/>
<path d="M365.90,109.70 L370.30,118.90 L361.50,118.90 Z M365.90,114.50 L367.35,117.00 L364.45,117.00 Z" fill="#000" fill-rule="evenodd"/>
<path d="M387.50,106.70 L391.90,115.90 L383.10,115.90 Z M387.50,111.50 L388.95,114.00 L386.05,114.00 Z" fill="#000" fill-rule="evenodd"/>
<path d="M409.10,62.20 L413.50,71.40 L404.70,71.40 Z M409.10,67.00 L410.55,69.50 L407.65,69.50 Z" fill="#000" fill-rule="evenodd"/>
<path d="M430.70,43.20 L435.10,52.40 L426.30,52.40 Z M430.70,48.00 L432.15,50.50 L429.25,50.50 Z" fill="#000" fill-rule="evenodd"/>
<path d="M452.30,94.70 L456.70,103.90 L447.90,103.90 Z M452.30,99.50 L453.75,102.00 L450.85,102.00 Z" fill="#000" fill-rule="evenodd"/>
<path d="M473.90,102.20 L478.30,111.40 L469.50,111.40 Z M473.90,107.00 L475.35,109.50 L472.45,109.50 Z" fill="#000" fill-rule="evenodd"/>
<path d="M495.50,110.20 L499.90,119.40 L491.10,119.40 Z M495.50,115.00 L496.95,117.50 L494.05,117.50 Z" fill="#000" fill-rule="evenodd"/>
<rect x="437.5" y="18.7" width="79.79999999999995" height="35.8" fill="#fff" stroke="#000" stroke-width="1.5"/>
<line x1="442.40" y1="25.60" x2="455.00" y2="25.60" stroke="#a3a3a3" stroke-width="1.6" stroke-linecap="butt"/>
<circle cx="448.70" cy="25.60" r="3.2" fill="none" stroke="#a3a3a3" stroke-width="1.9"/>
<text x="460.77" y="28.80" font-size="8.9" font-weight="normal" fill="#000" textLength="53.85" lengthAdjust="spacingAndGlyphs">Lymph nodes</text>
<line x1="442.40" y1="36.30" x2="455.00" y2="36.30" stroke="#5f5f5f" stroke-width="1.6" stroke-linecap="butt"/>
<rect x="445.50" y="33.10" width="6.40" height="6.40" fill="none" stroke="#5f5f5f" stroke-width="2.0"/>
<text x="461.20" y="39.50" font-size="8.9" font-weight="normal" fill="#000">Spleen</text>
<line x1="442.40" y1="47.90" x2="455.00" y2="47.90" stroke="#000" stroke-width="1.6" stroke-linecap="butt"/>
<path d="M448.70,42.52 L453.63,52.83 L443.77,52.83 Z M448.70,47.90 L450.32,50.70 L447.08,50.70 Z" fill="#000" fill-rule="evenodd"/>
<text x="461.57" y="51.20" font-size="8.9" font-weight="normal" fill="#000" textLength="53.01" lengthAdjust="spacingAndGlyphs">Bone marrow</text>
<text x="274.66" y="215.00" font-size="17" font-weight="bold" fill="#000" stroke="#000" stroke-width="0.25">E</text>
<text x="376.60" y="180.40" font-size="12.2" font-weight="bold" fill="#000" textLength="26.78" lengthAdjust="spacing">CTL</text>
<text x="407.05" y="180.40" font-size="12.2" font-weight="bold" fill="#000" textLength="36.67" lengthAdjust="spacingAndGlyphs">killing</text>
<line x1="324.20" y1="220.90" x2="324.20" y2="302.20" stroke="#000" stroke-width="2.1" stroke-linecap="butt"/>
<line x1="319.00" y1="221.50" x2="324.20" y2="221.50" stroke="#000" stroke-width="1.4" stroke-linecap="butt"/>
<text x="302.43" y="225.50" font-size="9.6" font-weight="bold" fill="#000" textLength="15.57" lengthAdjust="spacingAndGlyphs" stroke="#000" stroke-width="0.25">100</text>
<line x1="319.00" y1="241.45" x2="324.20" y2="241.45" stroke="#000" stroke-width="1.4" stroke-linecap="butt"/>
<text x="307.49" y="245.45" font-size="9.6" font-weight="bold" fill="#000" textLength="10.38" lengthAdjust="spacingAndGlyphs" stroke="#000" stroke-width="0.25">75</text>
<line x1="319.00" y1="261.40" x2="324.20" y2="261.40" stroke="#000" stroke-width="1.4" stroke-linecap="butt"/>
<text x="307.62" y="265.40" font-size="9.6" font-weight="bold" fill="#000" textLength="10.38" lengthAdjust="spacingAndGlyphs" stroke="#000" stroke-width="0.25">50</text>
<line x1="319.00" y1="281.35" x2="324.20" y2="281.35" stroke="#000" stroke-width="1.4" stroke-linecap="butt"/>
<text x="307.49" y="285.35" font-size="9.6" font-weight="bold" fill="#000" textLength="10.38" lengthAdjust="spacingAndGlyphs" stroke="#000" stroke-width="0.25">25</text>
<line x1="319.00" y1="301.30" x2="324.20" y2="301.30" stroke="#000" stroke-width="1.4" stroke-linecap="butt"/>
<text x="312.79" y="305.30" font-size="9.6" font-weight="bold" fill="#000" stroke="#000" stroke-width="0.25">0</text>
<line x1="323.20" y1="301.30" x2="518.50" y2="301.30" stroke="#000" stroke-width="1.9" stroke-linecap="butt"/>
<text x="335.58" y="312.40" font-size="9.3" font-weight="bold" fill="#000" textLength="26.54" lengthAdjust="spacing">Naive</text>
<text x="381.48" y="312.40" font-size="9.3" font-weight="bold" fill="#000" textLength="31.60" lengthAdjust="spacing">Lymph</text>
<text x="383.19" y="323.60" font-size="9.3" font-weight="bold" fill="#000" textLength="29.19" lengthAdjust="spacing">nodes</text>
<text x="432.93" y="312.40" font-size="9.3" font-weight="bold" fill="#000" textLength="32.64" lengthAdjust="spacing">Spleen</text>
<text x="481.18" y="312.40" font-size="9.3" font-weight="bold" fill="#000" textLength="26.14" lengthAdjust="spacing">Bone</text>
<text x="476.49" y="323.60" font-size="9.3" font-weight="bold" fill="#000" textLength="39.59" lengthAdjust="spacing">marrow</text>
<g transform="translate(294.80 284.80) rotate(-90)">
<text x="-0.29" y="0.00" font-size="11.5" font-weight="bold" fill="#000" textLength="47.96" lengthAdjust="spacingAndGlyphs">% killing</text>
</g>
<line x1="347.00" y1="200.40" x2="499.20" y2="200.40" stroke="#000" stroke-width="1.9" stroke-linecap="butt"/>
<line x1="346.20" y1="215.90" x2="447.00" y2="215.90" stroke="#000" stroke-width="1.9" stroke-linecap="butt"/>
<line x1="343.10" y1="235.20" x2="395.70" y2="235.20" stroke="#000" stroke-width="1.9" stroke-linecap="butt"/>
<text x="386.92" y="195.00" font-size="10" font-weight="bold" font-style="italic" fill="#000">P</text>
<text x="396.58" y="195.00" font-size="10" font-weight="bold" fill="#000">&lt;</text>
<text x="405.12" y="195.00" font-size="10" font-weight="bold" fill="#000">.</text>
<text x="409.50" y="195.00" font-size="10" font-weight="bold" fill="#000" textLength="20.67" lengthAdjust="spacingAndGlyphs">0001</text>
<text x="369.12" y="213.00" font-size="10" font-weight="bold" font-style="italic" fill="#000">P</text>
<text x="377.48" y="213.00" font-size="10" font-weight="bold" fill="#000">=</text>
<text x="387.22" y="213.00" font-size="10" font-weight="bold" fill="#000" textLength="24.36" lengthAdjust="spacingAndGlyphs">.0015</text>
<text x="349.22" y="230.10" font-size="10" font-weight="bold" font-style="italic" fill="#000">P</text>
<text x="357.48" y="230.10" font-size="10" font-weight="bold" fill="#000">=</text>
<text x="364.92" y="230.10" font-size="10" font-weight="bold" fill="#000" textLength="19.84" lengthAdjust="spacingAndGlyphs">.033</text>
<circle cx="340.50" cy="300.80" r="2.2" fill="#000"/>
<circle cx="344.50" cy="300.80" r="2.2" fill="#000"/>
<circle cx="348.50" cy="300.80" r="2.2" fill="#000"/>
<circle cx="352.50" cy="300.80" r="2.2" fill="#000"/>
<circle cx="356.00" cy="300.80" r="2.2" fill="#000"/>
<circle cx="389.30" cy="266.20" r="2.5" fill="#000"/>
<circle cx="396.80" cy="272.50" r="2.5" fill="#000"/>
<circle cx="404.00" cy="268.50" r="2.5" fill="#000"/>
<circle cx="396.80" cy="279.70" r="2.5" fill="#000"/>
<circle cx="396.80" cy="291.50" r="2.5" fill="#000"/>
<line x1="380.00" y1="275.40" x2="413.80" y2="275.40" stroke="#000" stroke-width="1.6" stroke-linecap="butt"/>
<circle cx="445.60" cy="232.10" r="2.5" fill="#000"/>
<circle cx="445.60" cy="243.70" r="2.5" fill="#000"/>
<circle cx="453.00" cy="248.80" r="2.5" fill="#000"/>
<circle cx="445.60" cy="252.60" r="2.5" fill="#000"/>
<circle cx="445.60" cy="262.40" r="2.5" fill="#000"/>
<circle cx="445.60" cy="282.00" r="2.5" fill="#000"/>
<line x1="429.00" y1="253.70" x2="462.30" y2="253.70" stroke="#000" stroke-width="1.6" stroke-linecap="butt"/>
<circle cx="486.80" cy="232.10" r="2.5" fill="#000"/>
<circle cx="494.00" cy="237.90" r="2.5" fill="#000"/>
<circle cx="501.80" cy="236.40" r="2.5" fill="#000"/>
<circle cx="494.00" cy="250.90" r="2.5" fill="#000"/>
<circle cx="494.00" cy="259.00" r="2.5" fill="#000"/>
<line x1="477.30" y1="243.10" x2="511.30" y2="243.10" stroke="#000" stroke-width="1.6" stroke-linecap="butt"/>
<text x="274.36" y="355.00" font-size="17" font-weight="bold" fill="#000" stroke="#000" stroke-width="0.25">F</text>
<text x="401.15" y="353.00" font-size="12" font-weight="bold" fill="#000" textLength="40.89" lengthAdjust="spacingAndGlyphs">Spleen</text>
<line x1="327.70" y1="356.70" x2="327.70" y2="429.40" stroke="#000" stroke-width="2.0" stroke-linecap="butt"/>
<line x1="323.20" y1="357.30" x2="327.70" y2="357.30" stroke="#000" stroke-width="1.4" stroke-linecap="butt"/>
<text x="307.63" y="361.30" font-size="9.6" font-weight="bold" fill="#000" textLength="15.57" lengthAdjust="spacingAndGlyphs" stroke="#000" stroke-width="0.25">100</text>
<line x1="323.20" y1="375.10" x2="327.70" y2="375.10" stroke="#000" stroke-width="1.4" stroke-linecap="butt"/>
<text x="312.69" y="379.10" font-size="9.6" font-weight="bold" fill="#000" textLength="10.38" lengthAdjust="spacingAndGlyphs" stroke="#000" stroke-width="0.25">75</text>
<line x1="323.20" y1="392.90" x2="327.70" y2="392.90" stroke="#000" stroke-width="1.4" stroke-linecap="butt"/>
<text x="312.82" y="396.90" font-size="9.6" font-weight="bold" fill="#000" textLength="10.38" lengthAdjust="spacingAndGlyphs" stroke="#000" stroke-width="0.25">50</text>
<line x1="323.20" y1="410.70" x2="327.70" y2="410.70" stroke="#000" stroke-width="1.4" stroke-linecap="butt"/>
<text x="312.69" y="414.70" font-size="9.6" font-weight="bold" fill="#000" textLength="10.38" lengthAdjust="spacingAndGlyphs" stroke="#000" stroke-width="0.25">25</text>
<line x1="323.20" y1="428.50" x2="327.70" y2="428.50" stroke="#000" stroke-width="1.4" stroke-linecap="butt"/>
<text x="317.99" y="432.50" font-size="9.6" font-weight="bold" fill="#000" stroke="#000" stroke-width="0.25">0</text>
<line x1="326.90" y1="428.50" x2="514.20" y2="428.50" stroke="#000" stroke-width="1.8" stroke-linecap="butt"/>
<line x1="343.20" y1="428.50" x2="343.20" y2="432.50" stroke="#000" stroke-width="1.4" stroke-linecap="butt"/>
<text x="339.79" y="441.40" font-size="9.3" font-weight="bold" fill="#000" stroke="#000" stroke-width="0.25">0</text>
<line x1="374.25" y1="428.50" x2="374.25" y2="432.50" stroke="#000" stroke-width="1.4" stroke-linecap="butt"/>
<text x="370.83" y="441.40" font-size="9.3" font-weight="bold" fill="#000" stroke="#000" stroke-width="0.25">8</text>
<line x1="405.30" y1="428.50" x2="405.30" y2="432.50" stroke="#000" stroke-width="1.4" stroke-linecap="butt"/>
<text x="399.27" y="441.40" font-size="9.3" font-weight="bold" fill="#000" textLength="10.06" lengthAdjust="spacingAndGlyphs" stroke="#000" stroke-width="0.25">10</text>
<line x1="436.35" y1="428.50" x2="436.35" y2="432.50" stroke="#000" stroke-width="1.4" stroke-linecap="butt"/>
<text x="430.26" y="441.40" font-size="9.3" font-weight="bold" fill="#000" textLength="10.06" lengthAdjust="spacingAndGlyphs" stroke="#000" stroke-width="0.25">15</text>
<line x1="467.40" y1="428.50" x2="467.40" y2="432.50" stroke="#000" stroke-width="1.4" stroke-linecap="butt"/>
<text x="461.50" y="441.40" font-size="9.3" font-weight="bold" fill="#000" textLength="10.06" lengthAdjust="spacingAndGlyphs" stroke="#000" stroke-width="0.25">20</text>
<line x1="498.45" y1="428.50" x2="498.45" y2="432.50" stroke="#000" stroke-width="1.4" stroke-linecap="butt"/>
<text x="492.54" y="441.40" font-size="9.3" font-weight="bold" fill="#000" textLength="10.06" lengthAdjust="spacingAndGlyphs" stroke="#000" stroke-width="0.25">60</text>
<text x="364.60" y="458.10" font-size="12.3" font-weight="bold" fill="#000" textLength="60.19" lengthAdjust="spacingAndGlyphs">days after</text>
<text x="426.24" y="458.10" font-size="12.3" font-weight="bold" fill="#000" textLength="52.02" lengthAdjust="spacingAndGlyphs">infection</text>
<g transform="translate(301.20 416.70) rotate(-90)">
<text x="-0.29" y="0.00" font-size="11.5" font-weight="bold" fill="#000" textLength="47.86" lengthAdjust="spacingAndGlyphs">% killing</text>
</g>
<circle cx="335.80" cy="428.20" r="2.5" fill="#000"/>
<circle cx="343.10" cy="428.20" r="2.5" fill="#000"/>
<circle cx="350.20" cy="428.20" r="2.5" fill="#000"/>
<circle cx="374.30" cy="397.20" r="2.5" fill="#000"/>
<circle cx="374.30" cy="414.30" r="2.5" fill="#000"/>
<circle cx="381.20" cy="416.20" r="2.5" fill="#000"/>
<circle cx="374.30" cy="423.50" r="2.5" fill="#000"/>
<line x1="363.50" y1="413.20" x2="385.40" y2="413.20" stroke="#000" stroke-width="1.6" stroke-linecap="butt"/>
<circle cx="398.30" cy="363.70" r="2.5" fill="#000"/>
<circle cx="405.20" cy="366.80" r="2.5" fill="#000"/>
<circle cx="398.30" cy="383.80" r="2.5" fill="#000"/>
<circle cx="405.20" cy="377.50" r="2.5" fill="#000"/>
<circle cx="405.20" cy="383.80" r="2.5" fill="#000"/>
<circle cx="405.20" cy="394.00" r="2.5" fill="#000"/>
<line x1="393.70" y1="378.10" x2="416.20" y2="378.10" stroke="#000" stroke-width="1.6" stroke-linecap="butt"/>
<circle cx="436.30" cy="371.20" r="2.5" fill="#000"/>
<circle cx="429.10" cy="382.40" r="2.5" fill="#000"/>
<circle cx="443.60" cy="384.70" r="2.5" fill="#000"/>
<circle cx="436.30" cy="389.60" r="2.5" fill="#000"/>
<line x1="425.40" y1="382.40" x2="447.30" y2="382.40" stroke="#000" stroke-width="1.6" stroke-linecap="butt"/>
<circle cx="460.90" cy="410.10" r="2.5" fill="#000"/>
<circle cx="468.10" cy="406.90" r="2.5" fill="#000"/>
<circle cx="474.70" cy="405.50" r="2.5" fill="#000"/>
<circle cx="468.10" cy="417.90" r="2.5" fill="#000"/>
<circle cx="468.10" cy="426.00" r="2.5" fill="#000"/>
<circle cx="474.70" cy="425.70" r="2.5" fill="#000"/>
<line x1="456.50" y1="415.60" x2="479.00" y2="415.60" stroke="#000" stroke-width="1.6" stroke-linecap="butt"/>
<circle cx="498.40" cy="420.20" r="2.5" fill="#000"/>
<circle cx="491.10" cy="425.70" r="2.5" fill="#000"/>
<circle cx="498.40" cy="426.30" r="2.5" fill="#000"/>
<circle cx="504.50" cy="425.70" r="2.5" fill="#000"/>
<circle cx="501.00" cy="427.00" r="2.5" fill="#000"/>
<line x1="488.00" y1="425.70" x2="510.00" y2="425.70" stroke="#000" stroke-width="1.6" stroke-linecap="butt"/>
<text x="274.50" y="499.20" font-size="17" font-weight="bold" fill="#000" stroke="#000" stroke-width="0.25">G</text>
<text x="380.50" y="502.50" font-size="12" font-weight="bold" fill="#000" textLength="79.48" lengthAdjust="spacingAndGlyphs">Bone marrow</text>
<line x1="327.70" y1="508.70" x2="327.70" y2="576.20" stroke="#000" stroke-width="2.0" stroke-linecap="butt"/>
<line x1="323.20" y1="509.30" x2="327.70" y2="509.30" stroke="#000" stroke-width="1.4" stroke-linecap="butt"/>
<text x="307.63" y="513.30" font-size="9.6" font-weight="bold" fill="#000" textLength="15.57" lengthAdjust="spacingAndGlyphs" stroke="#000" stroke-width="0.25">100</text>
<line x1="323.20" y1="525.80" x2="327.70" y2="525.80" stroke="#000" stroke-width="1.4" stroke-linecap="butt"/>
<text x="312.69" y="529.80" font-size="9.6" font-weight="bold" fill="#000" textLength="10.38" lengthAdjust="spacingAndGlyphs" stroke="#000" stroke-width="0.25">75</text>
<line x1="323.20" y1="542.30" x2="327.70" y2="542.30" stroke="#000" stroke-width="1.4" stroke-linecap="butt"/>
<text x="312.82" y="546.30" font-size="9.6" font-weight="bold" fill="#000" textLength="10.38" lengthAdjust="spacingAndGlyphs" stroke="#000" stroke-width="0.25">50</text>
<line x1="323.20" y1="558.80" x2="327.70" y2="558.80" stroke="#000" stroke-width="1.4" stroke-linecap="butt"/>
<text x="312.69" y="562.80" font-size="9.6" font-weight="bold" fill="#000" textLength="10.38" lengthAdjust="spacingAndGlyphs" stroke="#000" stroke-width="0.25">25</text>
<line x1="323.20" y1="575.30" x2="327.70" y2="575.30" stroke="#000" stroke-width="1.4" stroke-linecap="butt"/>
<text x="317.99" y="579.30" font-size="9.6" font-weight="bold" fill="#000" stroke="#000" stroke-width="0.25">0</text>
<line x1="326.90" y1="575.30" x2="515.70" y2="575.30" stroke="#000" stroke-width="1.8" stroke-linecap="butt"/>
<line x1="343.20" y1="575.30" x2="343.20" y2="579.30" stroke="#000" stroke-width="1.4" stroke-linecap="butt"/>
<text x="339.79" y="587.60" font-size="9.3" font-weight="bold" fill="#000" stroke="#000" stroke-width="0.25">0</text>
<line x1="374.25" y1="575.30" x2="374.25" y2="579.30" stroke="#000" stroke-width="1.4" stroke-linecap="butt"/>
<text x="370.83" y="587.60" font-size="9.3" font-weight="bold" fill="#000" stroke="#000" stroke-width="0.25">8</text>
<line x1="405.30" y1="575.30" x2="405.30" y2="579.30" stroke="#000" stroke-width="1.4" stroke-linecap="butt"/>
<text x="399.27" y="587.60" font-size="9.3" font-weight="bold" fill="#000" textLength="10.06" lengthAdjust="spacingAndGlyphs" stroke="#000" stroke-width="0.25">10</text>
<line x1="436.35" y1="575.30" x2="436.35" y2="579.30" stroke="#000" stroke-width="1.4" stroke-linecap="butt"/>
<text x="430.26" y="587.60" font-size="9.3" font-weight="bold" fill="#000" textLength="10.06" lengthAdjust="spacingAndGlyphs" stroke="#000" stroke-width="0.25">15</text>
<line x1="467.40" y1="575.30" x2="467.40" y2="579.30" stroke="#000" stroke-width="1.4" stroke-linecap="butt"/>
<text x="461.50" y="587.60" font-size="9.3" font-weight="bold" fill="#000" textLength="10.06" lengthAdjust="spacingAndGlyphs" stroke="#000" stroke-width="0.25">20</text>
<line x1="498.45" y1="575.30" x2="498.45" y2="579.30" stroke="#000" stroke-width="1.4" stroke-linecap="butt"/>
<text x="492.54" y="587.60" font-size="9.3" font-weight="bold" fill="#000" textLength="10.06" lengthAdjust="spacingAndGlyphs" stroke="#000" stroke-width="0.25">60</text>
<text x="365.10" y="602.60" font-size="12.3" font-weight="bold" fill="#000" textLength="113.17" lengthAdjust="spacingAndGlyphs">days after infection</text>
<g transform="translate(300.70 564.30) rotate(-90)">
<text x="-0.28" y="0.00" font-size="11.2" font-weight="bold" fill="#000" textLength="45.33" lengthAdjust="spacingAndGlyphs">% killing</text>
</g>
<circle cx="336.20" cy="575.00" r="2.5" fill="#000"/>
<circle cx="343.40" cy="575.00" r="2.5" fill="#000"/>
<circle cx="346.80" cy="575.00" r="2.5" fill="#000"/>
<circle cx="350.30" cy="575.00" r="2.5" fill="#000"/>
<circle cx="374.50" cy="521.10" r="2.5" fill="#000"/>
<circle cx="367.40" cy="571.20" r="2.5" fill="#000"/>
<circle cx="374.50" cy="573.50" r="2.5" fill="#000"/>
<circle cx="381.90" cy="572.30" r="2.5" fill="#000"/>
<line x1="363.50" y1="559.60" x2="385.40" y2="559.60" stroke="#000" stroke-width="1.6" stroke-linecap="butt"/>
<circle cx="405.50" cy="511.70" r="2.5" fill="#000"/>
<circle cx="398.30" cy="518.10" r="2.5" fill="#000"/>
<circle cx="405.50" cy="522.40" r="2.5" fill="#000"/>
<circle cx="412.70" cy="521.20" r="2.5" fill="#000"/>
<circle cx="405.50" cy="533.40" r="2.5" fill="#000"/>
<circle cx="405.50" cy="540.60" r="2.5" fill="#000"/>
<line x1="394.50" y1="524.70" x2="416.70" y2="524.70" stroke="#000" stroke-width="1.6" stroke-linecap="butt"/>
<circle cx="430.00" cy="517.50" r="2.5" fill="#000"/>
<circle cx="437.20" cy="519.00" r="2.5" fill="#000"/>
<circle cx="444.40" cy="514.90" r="2.5" fill="#000"/>
<circle cx="437.20" cy="534.80" r="2.5" fill="#000"/>
<line x1="425.70" y1="521.80" x2="447.90" y2="521.80" stroke="#000" stroke-width="1.6" stroke-linecap="butt"/>
<circle cx="461.40" cy="523.80" r="2.5" fill="#000"/>
<circle cx="468.60" cy="526.70" r="2.5" fill="#000"/>
<circle cx="475.90" cy="522.40" r="2.5" fill="#000"/>
<circle cx="468.60" cy="553.60" r="2.5" fill="#000"/>
<circle cx="468.60" cy="560.20" r="2.5" fill="#000"/>
<circle cx="468.60" cy="573.20" r="2.5" fill="#000"/>
<line x1="457.40" y1="543.60" x2="479.60" y2="543.60" stroke="#000" stroke-width="1.6" stroke-linecap="butt"/>
<circle cx="492.60" cy="564.50" r="2.5" fill="#000"/>
<circle cx="499.80" cy="564.50" r="2.5" fill="#000"/>
<circle cx="492.60" cy="574.00" r="2.5" fill="#000"/>
<circle cx="499.80" cy="574.50" r="2.5" fill="#000"/>
<circle cx="506.50" cy="574.50" r="2.5" fill="#000"/>
<line x1="488.30" y1="570.90" x2="510.50" y2="570.90" stroke="#000" stroke-width="1.6" stroke-linecap="butt"/>
</svg>
</body></html>
